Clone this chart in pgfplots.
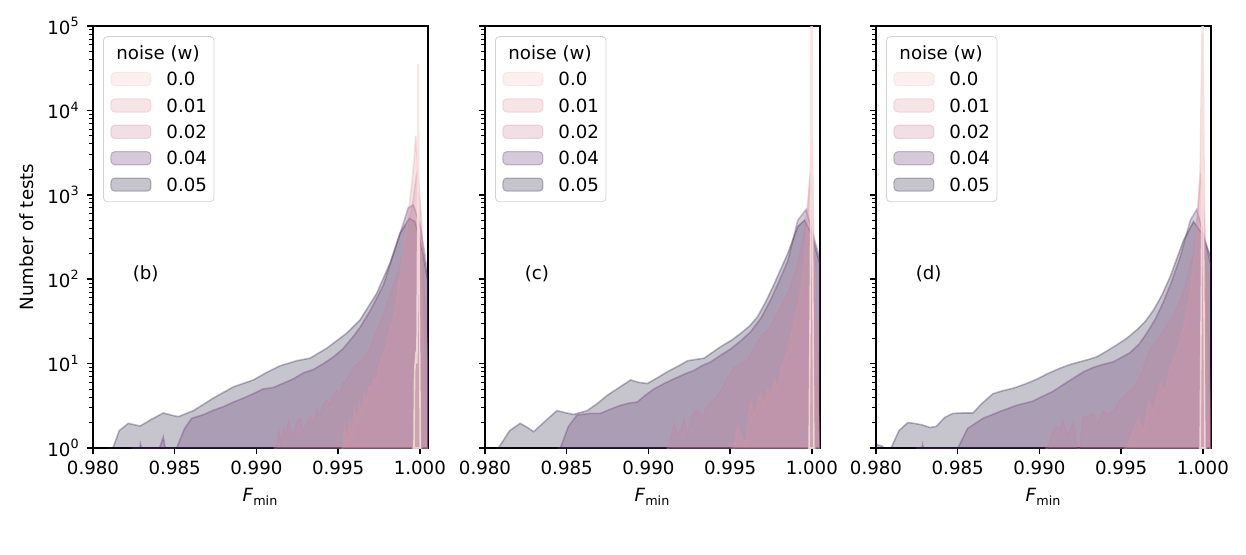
\documentclass[border=0pt]{standalone}
\usepackage{fontspec}
\setmainfont{DejaVu Sans}
\usepackage{pgfplots}
\pgfplotsset{compat=1.18}
\definecolor{c00}{HTML}{F0C6BE}
\definecolor{c01}{HTML}{E296A0}
\definecolor{c02}{HTML}{C8829B}
\definecolor{c04}{HTML}{5A2B6C}
\definecolor{c05}{HTML}{1C1538}
\newcommand{\lbl}{\fontsize{9.1}{11}\selectfont}
\pgfplotsset{
  s00/.style={fill=c00, fill opacity=0.25, draw=c00, draw opacity=0.3, line width=0.8pt},
  s01/.style={fill=c01, fill opacity=0.25, draw=c01, draw opacity=0.3, line width=0.8pt},
  s02/.style={fill=c02, fill opacity=0.25, draw=c02, draw opacity=0.3, line width=0.8pt},
  s04/.style={fill=c04, fill opacity=0.25, draw=c04, draw opacity=0.3, line width=0.8pt},
  s05/.style={fill=c05, fill opacity=0.25, draw=c05, draw opacity=0.3, line width=0.8pt},
  s00p/.style={fill=c00, fill opacity=0.3, draw=c00!50!white, draw opacity=0.8, line width=0.8pt},
  mypanel/.style={
    width=167.5pt, height=211pt, scale only axis,
    xmin=0.98, xmax=1.0005, ymin=1, ymax=100000,
    xtick={0.98,0.985,0.99,0.995,1.0},
    ytick={1,10,100,1000,10000,100000},
    minor ytick={2,3,4,5,6,7,8,9,20,30,40,50,60,70,80,90,200,300,400,500,600,700,800,900,2000,3000,4000,5000,6000,7000,8000,9000,20000,30000,40000,50000,60000,70000,80000,90000},
    scaled x ticks=false,
    tick align=outside, xtick pos=left, ytick pos=left,
    major tick length=3.15pt, minor tick length=1.8pt,
    axis line style={line width=0.72pt},
    every major tick/.append style={black, line width=0.72pt},
    every minor tick/.append style={black, line width=0.5pt},
    xticklabel style={/pgf/number format/.cd, fixed, fixed zerofill, precision=3, assume math mode=true},
    tick label style={font=\lbl},
    label style={font=\lbl},
    xlabel={\textit{F}\textsubscript{min}},
    x label style={at={(axis description cs:0.5,-0.116)}, anchor=center},
    legend style={at={(axis description cs:0.03,0.976)}, anchor=north west,
      draw=black!18, rounded corners=2pt, fill=white, font=\lbl,
      inner xsep=3.5pt, inner ysep=5pt, row sep=6.1pt, column sep=7.5pt,
      nodes={inner sep=0pt, text height=6.6pt, text depth=0pt}},
    legend cell align=left,
  },
}
\pgfplotsset{every axis/.append style={legend image code/.code={\draw[#1, line width=0.5pt] (0pt,-3.3pt) rectangle (20pt,3.3pt);}}}
\newcommand{\legendentries}{%
  \addlegendimage{empty legend}\addlegendentry{\hspace*{-25pt}noise (w)}
  \addlegendimage{s00}\addlegendentry{0.0}
  \addlegendimage{s01}\addlegendentry{0.01}
  \addlegendimage{s02}\addlegendentry{0.02}
  \addlegendimage{s04}\addlegendentry{0.04}
  \addlegendimage{s05}\addlegendentry{0.05}
}
\begin{document}
\begin{tikzpicture}
\useasboundingbox (0,0) rectangle (623pt,277pt);
% ---------------- panel (b) ----------------
\begin{semilogyaxis}[mypanel, at={(46.5pt,53pt)}, anchor=south west,
  ylabel={Number of tests},
  y label style={at={(axis description cs:-0.197,0.5)}, anchor=center},
  yticklabels={10\textsuperscript{0},10\textsuperscript{1},10\textsuperscript{2},10\textsuperscript{3},10\textsuperscript{4},10\textsuperscript{5}}]
\legendentries
\addplot[s05, forget plot] coordinates {(0.9810,0.1) (0.98122,1) (0.98160,1.6) (0.98216,1.96) (0.98288,1.82) (0.98360,2.2) (0.98430,2.6) (0.98480,2.45) (0.98522,2.35) (0.98614,2.77) (0.98736,3.9) (0.98859,5.3) (0.98981,6.4) (0.99060,7.8) (0.99144,9.4) (0.99246,10.8) (0.99328,11.6) (0.99430,15.2) (0.99552,22.9) (0.99634,32.9) (0.99736,68) (0.99817,154) (0.99879,350) (0.99936,527) (0.99970,480) (0.99990,350) (1.00020,200) (1.00050,90)} \closedcycle;
\addplot[s04, forget plot] coordinates {(0.98240,0.1) (0.98290,1.12) (0.98330,0.6) (0.98380,0.7) (0.98430,1.35) (0.98470,0.5) (0.98500,0.5) (0.98512,1) (0.98560,1.7) (0.98604,2.25) (0.98680,2.5) (0.98736,2.8) (0.98800,3.1) (0.98859,3.5) (0.98920,3.9) (0.98981,4.4) (0.99040,5.0) (0.99103,5.2) (0.99160,5.8) (0.99226,6.6) (0.99290,7.8) (0.99348,8.5) (0.99410,10) (0.99471,12) (0.99530,15) (0.99593,21) (0.99640,28) (0.99695,42) (0.99777,85) (0.99858,260) (0.99929,700) (0.99960,760) (1.00000,450) (1.00030,200) (1.00050,100)} \closedcycle;
\addplot[s02, forget plot] coordinates {(0.99110,0.1) (0.99124,1) (0.99140,1.6) (0.99150,1.1) (0.99165,1.7) (0.99180,1.3) (0.99196,2.1) (0.99210,1.6) (0.99226,1.4) (0.99245,2.0) (0.99267,2.3) (0.99285,1.6) (0.99308,1.9) (0.99330,2.4) (0.99350,2.0) (0.99369,2.8) (0.99390,2.5) (0.99410,3.3) (0.99430,3.7) (0.99450,3.2) (0.99470,4.3) (0.99491,4.8) (0.99510,4.4) (0.99530,5.8) (0.99552,6.4) (0.99570,7.2) (0.99593,9.0) (0.99620,9.8) (0.99654,11) (0.99675,13) (0.99695,15) (0.99715,19) (0.99736,24) (0.99757,30) (0.99777,37) (0.99797,50) (0.99817,64) (0.99838,85) (0.99858,110) (0.99879,150) (0.99899,200) (0.99920,330) (0.99940,540) (0.99960,900) (0.99975,1500) (0.99987,2000) (1.00000,900) (1.00010,500) (1.00030,60) (1.00050,10)} \closedcycle;
\addplot[s01, forget plot] coordinates {(0.99520,0.1) (0.99530,1) (0.99540,1.7) (0.99555,1.1) (0.99570,2.0) (0.99585,1.4) (0.99600,2.9) (0.99615,2.0) (0.99630,3.4) (0.99645,2.6) (0.99660,4.4) (0.99675,3.5) (0.99690,5.5) (0.99705,4.8) (0.99720,6.9) (0.99735,6.0) (0.99750,9) (0.99770,12) (0.99790,15) (0.99810,22) (0.99830,29) (0.99850,45) (0.99870,84) (0.99890,160) (0.99910,300) (0.99930,600) (0.99950,1300) (0.99965,2500) (0.99975,5000) (0.99985,2500) (0.99995,900) (1.00005,300) (1.00020,20) (1.00040,1) (1.00050,0.3)} \closedcycle;
\addplot[s00p, forget plot] coordinates {(0.99960,0.1) (0.99968,8) (0.99975,12) (0.99982,10) (0.99986,200) (0.99989,35000) (0.99992,35000) (0.99995,200) (1.00000,8) (1.00006,0.1)} \closedcycle;
\node[anchor=base west, font=\lbl] at (axis cs:0.982,100) {(b)};
\end{semilogyaxis}
% ---------------- panel (c) ----------------
\begin{semilogyaxis}[mypanel, at={(242.5pt,53pt)}, anchor=south west, yticklabels={}]
\legendentries
\addplot[s05, forget plot] coordinates {(0.98070,0.1) (0.98082,1) (0.98150,1.6) (0.98215,1.96) (0.98260,1.75) (0.98297,1.56) (0.98370,2.1) (0.98440,2.77) (0.98500,2.6) (0.98543,2.5) (0.98625,2.77) (0.98690,3.4) (0.98747,4.2) (0.98820,5.2) (0.98891,6.4) (0.98940,6.0) (0.98993,5.8) (0.99050,6.7) (0.99116,8.0) (0.99180,9.3) (0.99239,10.8) (0.99290,11.2) (0.99341,11.6) (0.99390,13.5) (0.99443,15.9) (0.99510,19) (0.99566,22.9) (0.99620,28) (0.99668,36) (0.99720,55) (0.99771,89) (0.99853,203) (0.99914,420) (0.99955,500) (0.99996,350) (1.00050,150)} \closedcycle;
\addplot[s04, forget plot] coordinates {(0.98450,0.1) (0.98461,1) (0.98510,1.8) (0.98563,2.46) (0.98645,2.57) (0.98706,2.57) (0.98770,2.9) (0.98829,3.2) (0.98880,3.4) (0.98931,3.5) (0.98980,4.2) (0.99034,5.0) (0.99095,5.8) (0.99156,6.6) (0.99220,7.5) (0.99279,8.3) (0.99330,9.5) (0.99382,10.5) (0.99440,12.5) (0.99505,15) (0.99570,19) (0.99627,24) (0.99690,35) (0.99750,58) (0.99800,95) (0.99853,165) (0.99914,500) (0.99965,670) (1.00006,350) (1.00050,170)} \closedcycle;
\addplot[s02, forget plot] coordinates {(0.99115,0.1) (0.99126,1) (0.99157,1.96) (0.99178,1.4) (0.99198,1.6) (0.99218,2.2) (0.99239,1.4) (0.99255,1.9) (0.99270,2.5) (0.99300,2.8) (0.99331,2.3) (0.99355,3.0) (0.99382,3.5) (0.99410,3.9) (0.99443,4.8) (0.99465,5.6) (0.99484,6.9) (0.99505,7.8) (0.99525,9) (0.99545,9.3) (0.99566,10) (0.99587,10.4) (0.99607,11) (0.99628,13) (0.99648,15) (0.99668,18) (0.99689,21) (0.99710,23) (0.99730,25) (0.99750,29) (0.99771,34) (0.99792,40) (0.99812,48) (0.99833,57) (0.99853,68) (0.99883,100) (0.99914,154) (0.99935,240) (0.99955,380) (0.99972,700) (0.99985,1300) (0.99992,1800) (1.00000,1000) (1.00006,350) (1.00020,40) (1.00040,3) (1.00050,1)} \closedcycle;
\addplot[s01, forget plot] coordinates {(0.99510,0.1) (0.99525,1) (0.99546,1.8) (0.99566,1.4) (0.99597,1.1) (0.99612,2.4) (0.99628,3.5) (0.99648,2.3) (0.99669,3.6) (0.99689,4.4) (0.99710,3.2) (0.99730,5.0) (0.99751,4.3) (0.99771,6.4) (0.99792,5.2) (0.99812,9) (0.99833,11) (0.99853,15) (0.99874,22) (0.99894,33) (0.99915,50) (0.99935,80) (0.99950,150) (0.99966,290) (0.99986,1300) (1.00000,4500) (1.00006,1500) (1.00012,300) (1.00030,10) (1.00050,0.3)} \closedcycle;
\addplot[s00p, forget plot] coordinates {(0.99980,0.1) (0.99986,5) (0.99992,200) (0.99996,300000) (1.00001,300000) (1.00005,200) (1.00010,5) (1.00016,0.1)} \closedcycle;
\node[anchor=base west, font=\lbl] at (axis cs:0.982,100) {(c)};
\end{semilogyaxis}
% ---------------- panel (d) ----------------
\begin{semilogyaxis}[mypanel, at={(438pt,53pt)}, anchor=south west, yticklabels={}]
\legendentries
\addplot[s05, forget plot] coordinates {(0.98000,1.1) (0.98040,1.05) (0.98070,0.6) (0.98092,1) (0.98140,1.6) (0.98194,2.0) (0.98240,1.95) (0.98286,1.87) (0.98330,1.75) (0.98368,1.8) (0.98420,2.3) (0.98470,2.57) (0.98530,2.6) (0.98593,2.6) (0.98650,3.4) (0.98716,4.4) (0.98780,4.8) (0.98839,5.1) (0.98910,5.7) (0.98982,6.5) (0.99050,7.6) (0.99125,8.8) (0.99190,9.8) (0.99248,10.5) (0.99300,11.2) (0.99350,12) (0.99410,14) (0.99472,16.6) (0.99535,20) (0.99595,25) (0.99650,32) (0.99698,43) (0.99750,65) (0.99800,107) (0.99882,290) (0.99943,480) (0.99994,350) (1.00055,170)} \closedcycle;
\addplot[s04, forget plot] coordinates {(0.98250,0.5) (0.98285,1.1) (0.98320,0.5) (0.98490,0.1) (0.98501,1) (0.98560,1.7) (0.98655,2.25) (0.98757,2.7) (0.98859,3.2) (0.98961,3.6) (0.99020,4.1) (0.99084,4.7) (0.99150,5.7) (0.99207,6.7) (0.99270,8.0) (0.99329,9.0) (0.99390,9.8) (0.99452,10.5) (0.99500,11.8) (0.99555,13.5) (0.99610,17) (0.99657,23) (0.99710,34) (0.99759,54) (0.99810,95) (0.99862,185) (0.99923,500) (0.99963,670) (1.00014,290) (1.00055,130)} \closedcycle;
\addplot[s02, forget plot] coordinates {(0.99040,0.1) (0.99053,1) (0.99080,1.5) (0.99104,1.8) (0.99125,1.6) (0.99145,2.1) (0.99160,1.7) (0.99176,1.4) (0.99192,1.7) (0.99207,2.0) (0.99222,1.4) (0.99237,0.6) (0.99252,1.2) (0.99268,2.3) (0.99300,2.4) (0.99329,2.57) (0.99345,2.2) (0.99360,1.96) (0.99391,2.8) (0.99420,2.5) (0.99452,2.7) (0.99490,3.6) (0.99534,4.4) (0.99575,5.2) (0.99616,6.9) (0.99646,10) (0.99677,15) (0.99708,17) (0.99738,21) (0.99780,28) (0.99820,37) (0.99850,50) (0.99882,73) (0.99912,120) (0.99943,203) (0.99960,400) (0.99974,850) (0.99988,1800) (1.00000,1000) (1.00010,400) (1.00030,30) (1.00050,2)} \closedcycle;
\addplot[s01, forget plot] coordinates {(0.99520,0.1) (0.99534,1) (0.99575,1.6) (0.99606,2.3) (0.99636,1.5) (0.99667,3.5) (0.99698,2.8) (0.99738,5.9) (0.99769,4.5) (0.99800,9) (0.99841,14) (0.99882,27) (0.99923,68) (0.99953,220) (0.99984,2000) (0.99995,80000) (1.00000,80000) (1.00008,1500) (1.00020,50) (1.00040,1) (1.00055,0.2)} \closedcycle;
\addplot[s00p, forget plot] coordinates {(0.99980,0.1) (0.99986,5) (0.99992,200) (0.99996,300000) (1.00001,300000) (1.00005,200) (1.00010,5) (1.00016,0.1)} \closedcycle;
\node[anchor=base west, font=\lbl] at (axis cs:0.982,100) {(d)};
\end{semilogyaxis}
\end{tikzpicture}
\end{document}
